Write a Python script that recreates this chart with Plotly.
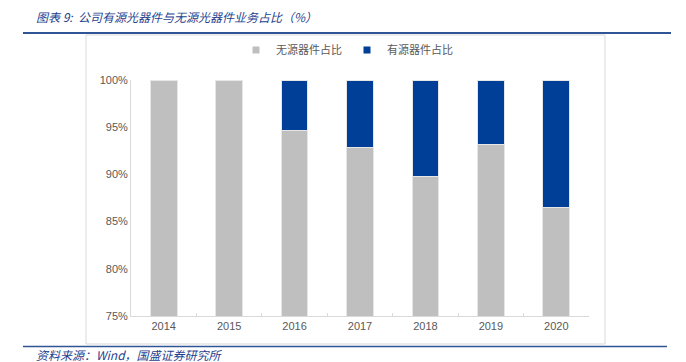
import plotly.graph_objects as go

years = ["2014", "2015", "2016", "2017", "2018", "2019", "2020"]
passive = [100.0, 100.0, 94.6, 92.8, 89.8, 93.15, 86.5]
active = [0.0, 0.0, 5.4, 7.2, 10.2, 6.85, 13.5]
y_ticks = [75, 80, 85, 90, 95, 100]
y_tick_labels = ["75%", "80%", "85%", "90%", "95%", "100%"]

# page body has an 8px default margin; compensate
OFF = 8
W, H = 686 - OFF, 362 - OFF
L, R, T, B = 131 - OFF, 589 - OFF, 80 - OFF, 316 - OFF

def px(x):
    return (x - OFF - L) / (R - L)

def py(y):
    return (B - (y - OFF)) / (B - T)

GREY = "#BFBFBF"
BLUE = "#003F98"

fig = go.Figure()
fig.add_trace(go.Bar(x=years, y=passive, name="无源器件占比", showlegend=False,
                     marker=dict(color=GREY, line=dict(color="#E6E6E6", width=1)), width=0.41))
fig.add_trace(go.Bar(x=years, y=active, name="有源器件占比", showlegend=False,
                     marker=dict(color=BLUE, line=dict(color="#E6E6E6", width=1)), width=0.41))
# legend entries with small square markers
fig.add_trace(go.Scatter(x=[None], y=[None], mode="markers", name="无源器件占比",
                         marker=dict(symbol="square", size=7, color=GREY)))
fig.add_trace(go.Scatter(x=[None], y=[None], mode="markers", name="有源器件占比",
                         marker=dict(symbol="square", size=7, color=BLUE)))

fig.update_layout(
    barmode="stack",
    width=W, height=H,
    margin=dict(l=L, r=W - R, t=T, b=H - B, autoexpand=False),
    paper_bgcolor="white", plot_bgcolor="white",
    font=dict(family="Liberation Sans, Arial", size=11, color="#595959"),
    showlegend=True,
    legend=dict(orientation="h", x=px(347), xanchor="center", y=py(50), yanchor="middle",
                font=dict(family="Noto Sans CJK SC", size=11, color="#595959"),
                itemwidth=30, traceorder="normal"),
)
fig.update_yaxes(range=[75, 100], tickvals=y_ticks, ticktext=y_tick_labels, showgrid=False,
                 showline=True, linecolor="#D9D9D9", linewidth=1, ticks="", zeroline=False,
                 tickfont=dict(size=11, color="#595959"))
fig.update_xaxes(type="category", showgrid=False, showline=True, linecolor="#D9D9D9", linewidth=1,
                 ticks="inside", tickson="boundaries", ticklen=3, tickcolor="#D9D9D9",
                 tickfont=dict(size=11, color="#595959"))

shapes = []
# chart frame
shapes.append(dict(type="rect", xref="paper", yref="paper", x0=px(86), x1=px(605), y0=py(344), y1=py(35),
                   line=dict(color="#D9D9D9", width=1), fillcolor="rgba(0,0,0,0)", layer="below"))
# top blue line
shapes.append(dict(type="line", xref="paper", yref="paper", x0=px(23), x1=px(671), y0=py(33), y1=py(33),
                   line=dict(color="#2F5597", width=2)))
# bottom blue line
shapes.append(dict(type="line", xref="paper", yref="paper", x0=px(23), x1=px(667), y0=py(346.5), y1=py(346.5),
                   line=dict(color="#2F5597", width=1.5)))
fig.update_layout(shapes=shapes)

fig.add_annotation(xref="paper", yref="paper", x=px(34), y=py(16), xanchor="left", yanchor="middle",
                   text="<i>图表 9:  公司有源光器件与无源光器件业务占比（%）</i>", showarrow=False,
                   font=dict(family="Noto Sans CJK SC", size=12, color="#1F3F8F"))
fig.add_annotation(xref="paper", yref="paper", x=px(34), y=py(354), xanchor="left", yanchor="middle",
                   text="<i>资料来源：Wind，国盛证券研究所</i>", showarrow=False,
                   font=dict(family="Noto Sans CJK SC", size=12, color="#1F3F8F"))

fig.write_html("out.html")
